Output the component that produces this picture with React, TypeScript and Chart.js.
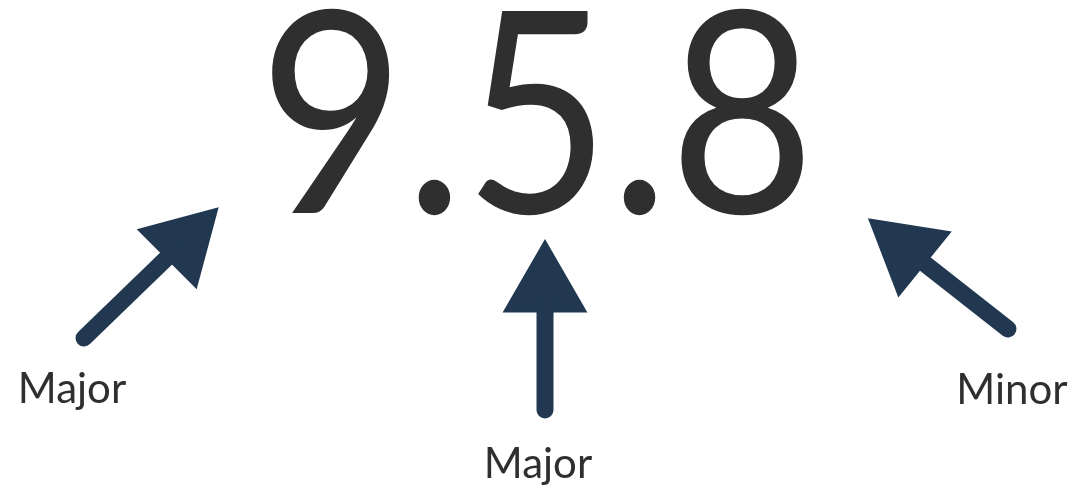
import React, { useEffect, useRef } from "react";
import { Chart, registerables } from "chart.js";

Chart.register(...registerables);

// Version parts shown in big type
const versionParts = ["9", "5", "8"];
// Annotation labels (one per arrow)
const arrowLabels = ["Major", "Major", "Minor"];
const labelX = [72, 538, 1012];
const labelY = [403, 478, 404];
// Arrow shafts: tail point and point where shaft enters the head
const tailX = [84, 545, 1008];
const tailY = [338, 410, 329];
const shaftEndX = [175, 545, 915];
const shaftEndY = [250, 295, 256];
// Arrow heads: centre, rotation (deg, clockwise from up)
const headX = [184, 545, 906];
const headY = [242, 288, 249];
const headRot = [45, 0, -51];

const W = 1077;
const H = 491;
const ARROW = "#213850";
const TEXT = "#2f2f2f";

const textPlugin = {
  id: "versionText",
  afterDatasetsDraw(chart: any) {
    const { ctx, scales } = chart;
    const x = scales.x;
    const y = scales.y;
    ctx.save();
    ctx.fillStyle = TEXT;
    ctx.textAlign = "center";
    ctx.textBaseline = "alphabetic";
    ctx.font = "282px Lato";
    ctx.fillText(versionParts.join("."), x.getPixelForValue(537), y.getPixelForValue(213), 556);
    ctx.font = "42px Lato";
    arrowLabels.forEach((t, i) => {
      ctx.fillText(t, x.getPixelForValue(labelX[i]), y.getPixelForValue(labelY[i]), 116);
    });
    ctx.restore();
  },
};

export default function App() {
  const ref = useRef<HTMLCanvasElement | null>(null);
  useEffect(() => {
    document.body.style.margin = "0";
    const shafts = tailX.map((_, i) => ({
      type: "scatter" as const,
      data: [
        { x: tailX[i], y: tailY[i] },
        { x: shaftEndX[i], y: shaftEndY[i] },
      ],
      showLine: true,
      borderColor: ARROW,
      borderWidth: 17,
      borderCapStyle: "round" as const,
      pointRadius: 0,
      clip: false,
    }));
    const heads = {
      type: "scatter" as const,
      data: headX.map((hx, i) => ({ x: hx, y: headY[i] })),
      pointStyle: "triangle" as const,
      pointRadius: 47,
      rotation: headRot,
      backgroundColor: ARROW,
      borderColor: ARROW,
      borderWidth: 2,
      clip: false,
    };
    const chart = new Chart(ref.current as HTMLCanvasElement, {
      type: "scatter",
      data: { datasets: [...shafts, heads] as any },
      options: {
        animation: false,
        responsive: false,
        layout: { padding: 0, autoPadding: false },
        plugins: { legend: { display: false }, tooltip: { enabled: false } },
        events: [],
        scales: {
          x: { type: "linear", min: 0, max: W, display: false },
          y: { type: "linear", min: 0, max: H, reverse: true, display: false },
        },
      },
      plugins: [textPlugin],
    });
    return () => chart.destroy();
  }, []);
  return (
    <div style={{ width: W, height: H, background: "#fff" }}>
      <canvas ref={ref} width={W} height={H} />
    </div>
  );
}
